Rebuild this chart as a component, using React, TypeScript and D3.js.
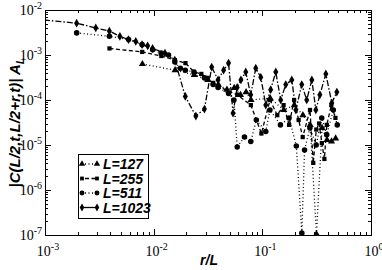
import * as d3 from 'd3';
import React, { Component } from 'react';

// r values and |C| A_L values, one pair of arrays per system size
const sizes = [127, 255, 511, 1023];

const r127 = [1, 2, 3, 4, 5, 6, 7, 8, 9, 10, 15, 20, 25, 30, 35, 40, 45, 50, 55, 60];
const c127 = [6.3e-4, 4.6e-4, 3.6e-4, 2.8e-4, 2.2e-4, 1.7e-4, 1.85e-4, 1.3e-4, 1.5e-4, 1.0e-4,
  1.1e-4, 6.0e-5, 7.7e-5, 4.6e-5, 2.8e-5, 1.05e-7, 2.4e-5, 1.3e-5, 1.2e-5, 1.4e-5];

const r255 = [1, 2, 3, 4, 5, 6, 7, 8, 9, 10, 15, 20, 25, 30, 35, 40, 45, 50, 55, 60, 70, 75, 80, 85, 90, 95, 100, 110, 120];
const c255 = [1.4e-3, 1.17e-3, 9.5e-4, 7.7e-4, 6.6e-4, 4.2e-4, 3.8e-4, 3.1e-4, 2.4e-4, 2.0e-4,
  1.3e-4, 7.7e-5, 1.8e-5, 1.0e-4, 4.6e-5, 7.7e-5, 2.8e-5, 1.0e-4, 3.6e-5, 1.5e-5,
  6.0e-5, 4.0e-6, 2.2e-5, 3.0e-5, 1.1e-5, 4.9e-6, 2.8e-5, 7.7e-5, 4.0e-5];

const r511 = [1, 2, 3, 4, 5, 6, 7, 8, 9, 10, 12, 15, 18, 20, 25, 28, 30, 35, 40, 45, 55, 60, 75, 90, 105, 118, 125, 140, 160, 180, 200, 230, 250];
const c511 = [3.1e-3, 2.6e-3, 2.2e-3, 1.7e-3, 1.3e-3, 1.1e-3, 1.0e-3, 7.0e-4, 5.1e-4, 4.6e-4,
  4.2e-4, 3.1e-4, 2.2e-4, 1.9e-4, 1.4e-4, 1.0e-4, 9.0e-6, 1.5e-5, 1.2e-5, 3.6e-5,
  2.0e-5, 6.0e-5, 2.8e-5, 4.0e-5, 9.5e-6, 1.1e-7, 7.7e-6, 2.4e-5, 1.0e-5, 4.0e-5,
  1.7e-5, 6.0e-5, 2.8e-5];

const r1023 = [1, 2, 3, 4, 5, 6, 7, 8, 9, 10, 13, 16, 20, 25, 30, 35, 40, 45, 50, 55, 60, 65, 72, 80, 89, 99,
  110, 122, 136, 151, 168, 191, 208, 236, 262, 292, 318, 346, 393, 446, 496];
const c1023 = [6.0e-3, 5.1e-3, 4.0e-3, 3.4e-3, 2.6e-3, 2.2e-3, 2.0e-3, 1.7e-3, 1.6e-3, 1.4e-3,
  1.1e-3, 7.7e-4, 1.2e-4, 4.4e-5, 6.3e-5, 5.4e-4, 2.8e-4, 4.6e-4, 6.6e-4, 5.1e-5,
  1.9e-4, 2.8e-4, 4.2e-4, 1.3e-4, 5.1e-4, 3.2e-4, 7.7e-5, 1.7e-4, 4.2e-4, 1.0e-4,
  2.2e-4, 2.8e-4, 6.0e-5, 2.2e-4, 1.0e-4, 2.8e-4, 6.0e-5, 1.3e-4, 3.8e-4, 8.6e-5, 1.5e-4];

const rs = [r127, r255, r511, r1023];
const cs = [c127, c255, c511, c1023];
const symbols = [d3.symbolTriangle, d3.symbolSquare, d3.symbolCircle, d3.symbolDiamond];
const symbolSizes = [22, 18, 24, 22];
const dashes = ['1,2.5', '4,2.5', '1,2.5', '6,2,1.5,2'];

const xDecades = [-3, -2, -1, 0];
const yDecades = [-7, -6, -5, -4, -3, -2];

class App extends Component {
  private node: any;

  componentDidMount() {
    this.createChart();
  }

  createChart() {
    const svg = d3.select(this.node);
    svg.selectAll('*').remove();
    const left = 45;
    const right = 371;
    const top = 10;
    const bottom = 235;

    const x = d3.scaleLog().domain([1e-3, 1]).range([left, right]);
    const y = d3.scaleLog().domain([1e-7, 1e-2]).range([bottom, top]);

    svg.append('defs').append('clipPath').attr('id', 'plot')
      .append('rect').attr('x', left).attr('y', top - 4)
      .attr('width', right - left).attr('height', bottom - top + 4);

    // minor and major ticks on all four sides, pointing inwards
    const ax = svg.append('g').attr('stroke', '#000').attr('stroke-width', 1);
    xDecades.forEach((e) => {
      const base = Math.pow(10, e);
      for (let k = 1; k < 10; k++) {
        const v = base * k;
        if (v > 1) break;
        const len = k === 1 ? 6 : 3;
        const px = Math.round(x(v)) + 0.5;
        ax.append('line').attr('x1', px).attr('x2', px).attr('y1', bottom).attr('y2', bottom - len);
        ax.append('line').attr('x1', px).attr('x2', px).attr('y1', top).attr('y2', top + len);
      }
    });
    yDecades.forEach((e) => {
      const base = Math.pow(10, e);
      for (let k = 1; k < 10; k++) {
        const v = base * k;
        if (v > 1e-2 + 1e-12) break;
        const len = k === 1 ? 6 : 3;
        const py = Math.round(y(v)) + 0.5;
        ax.append('line').attr('x1', left).attr('x2', left + len).attr('y1', py).attr('y2', py);
        ax.append('line').attr('x1', right).attr('x2', right - len).attr('y1', py).attr('y2', py);
      }
    });
    svg.append('rect').attr('x', left + 0.5).attr('y', top + 0.5)
      .attr('width', right - left).attr('height', bottom - top)
      .attr('fill', 'none').attr('stroke', '#000').attr('stroke-width', 1);

    // tick labels
    const serif = 'Liberation Serif, Times New Roman, serif';
    xDecades.forEach((e) => {
      const t = svg.append('text').attr('x', x(Math.pow(10, e)) + 3).attr('y', 256)
        .attr('text-anchor', 'middle').attr('font-family', serif).attr('font-size', 14);
      t.append('tspan').text('10');
      t.append('tspan').attr('dy', -6).attr('font-size', 10).text(String(e));
    });
    yDecades.forEach((e) => {
      const t = svg.append('text').attr('x', 42).attr('y', y(Math.pow(10, e)) + 5)
        .attr('text-anchor', 'end').attr('font-family', serif).attr('font-size', 14);
      t.append('tspan').text('10');
      t.append('tspan').attr('dy', -6).attr('font-size', 10).text(String(e));
    });

    const sans = 'Liberation Sans, Arial, sans-serif';
    svg.append('text').attr('x', 209).attr('y', 265).attr('text-anchor', 'middle')
      .attr('font-family', sans).attr('font-size', 14).attr('font-weight', 'bold')
      .attr('font-style', 'italic').text('r/L');
    const yt = svg.append('text').attr('transform', 'translate(20,' + (top + bottom) / 2 + ') rotate(-90)')
      .attr('text-anchor', 'middle').attr('font-family', sans).attr('font-size', 15)
      .attr('font-weight', 'bold').attr('font-style', 'italic');
    yt.append('tspan').text('|C(L/2,t,L/2+r,t)| A');
    yt.append('tspan').attr('dy', 4).attr('font-size', 11).text('L');

    // series
    const line = d3.line<[number, number]>().x((d) => x(d[0])).y((d) => y(d[1]));
    const plot = svg.append('g').attr('clip-path', 'url(#plot)');
    sizes.forEach((L, i) => {
      const pts: [number, number][] = rs[i].map((r, j) => [r / L, cs[i][j]]);
      plot.append('path').attr('d', line(pts)).attr('fill', 'none').attr('stroke', '#000')
        .attr('stroke-width', 1.3).attr('stroke-dasharray', dashes[i]);
      const sym = d3.symbol().type(symbols[i]).size(symbolSizes[i]);
      plot.selectAll('.m' + i).data(pts).enter().append('path')
        .attr('transform', (d) => 'translate(' + x(d[0]) + ',' + y(d[1]) + ')')
        .attr('d', sym).attr('fill', '#000');
    });

    // legend
    const lg = svg.append('g');
    const lx = 78;
    const ly = 154;
    lg.append('rect').attr('x', lx + 0.5).attr('y', ly + 0.5).attr('width', 70).attr('height', 64)
      .attr('fill', '#fff').attr('stroke', '#000').attr('stroke-width', 1);
    sizes.forEach((L, i) => {
      const cy = ly + 10 + i * 14.5;
      lg.append('line').attr('x1', 82).attr('x2', 97).attr('y1', cy).attr('y2', cy)
        .attr('stroke', '#000').attr('stroke-width', 1.3).attr('stroke-dasharray', i === 3 ? null : dashes[i])
        .attr('stroke-dashoffset', -3);
      const sym = d3.symbol().type(symbols[i]).size(symbolSizes[i] * 0.8);
      [82, 97].forEach((sx) => {
        lg.append('path').attr('transform', 'translate(' + sx + ',' + cy + ')').attr('d', sym).attr('fill', '#000');
      });
      lg.append('text').attr('x', 103).attr('y', cy + 5).attr('font-family', sans)
        .attr('font-size', 14).attr('font-weight', 'bold').attr('font-style', 'italic')
        .text('L=' + L);
    });
  }

  render() {
    return (
      <svg ref={(node) => (this.node = node)} width={382} height={270}
        style={{ display: 'block', position: 'fixed', left: 0, top: 0, background: '#fff' }} />
    );
  }
}

export default App;
